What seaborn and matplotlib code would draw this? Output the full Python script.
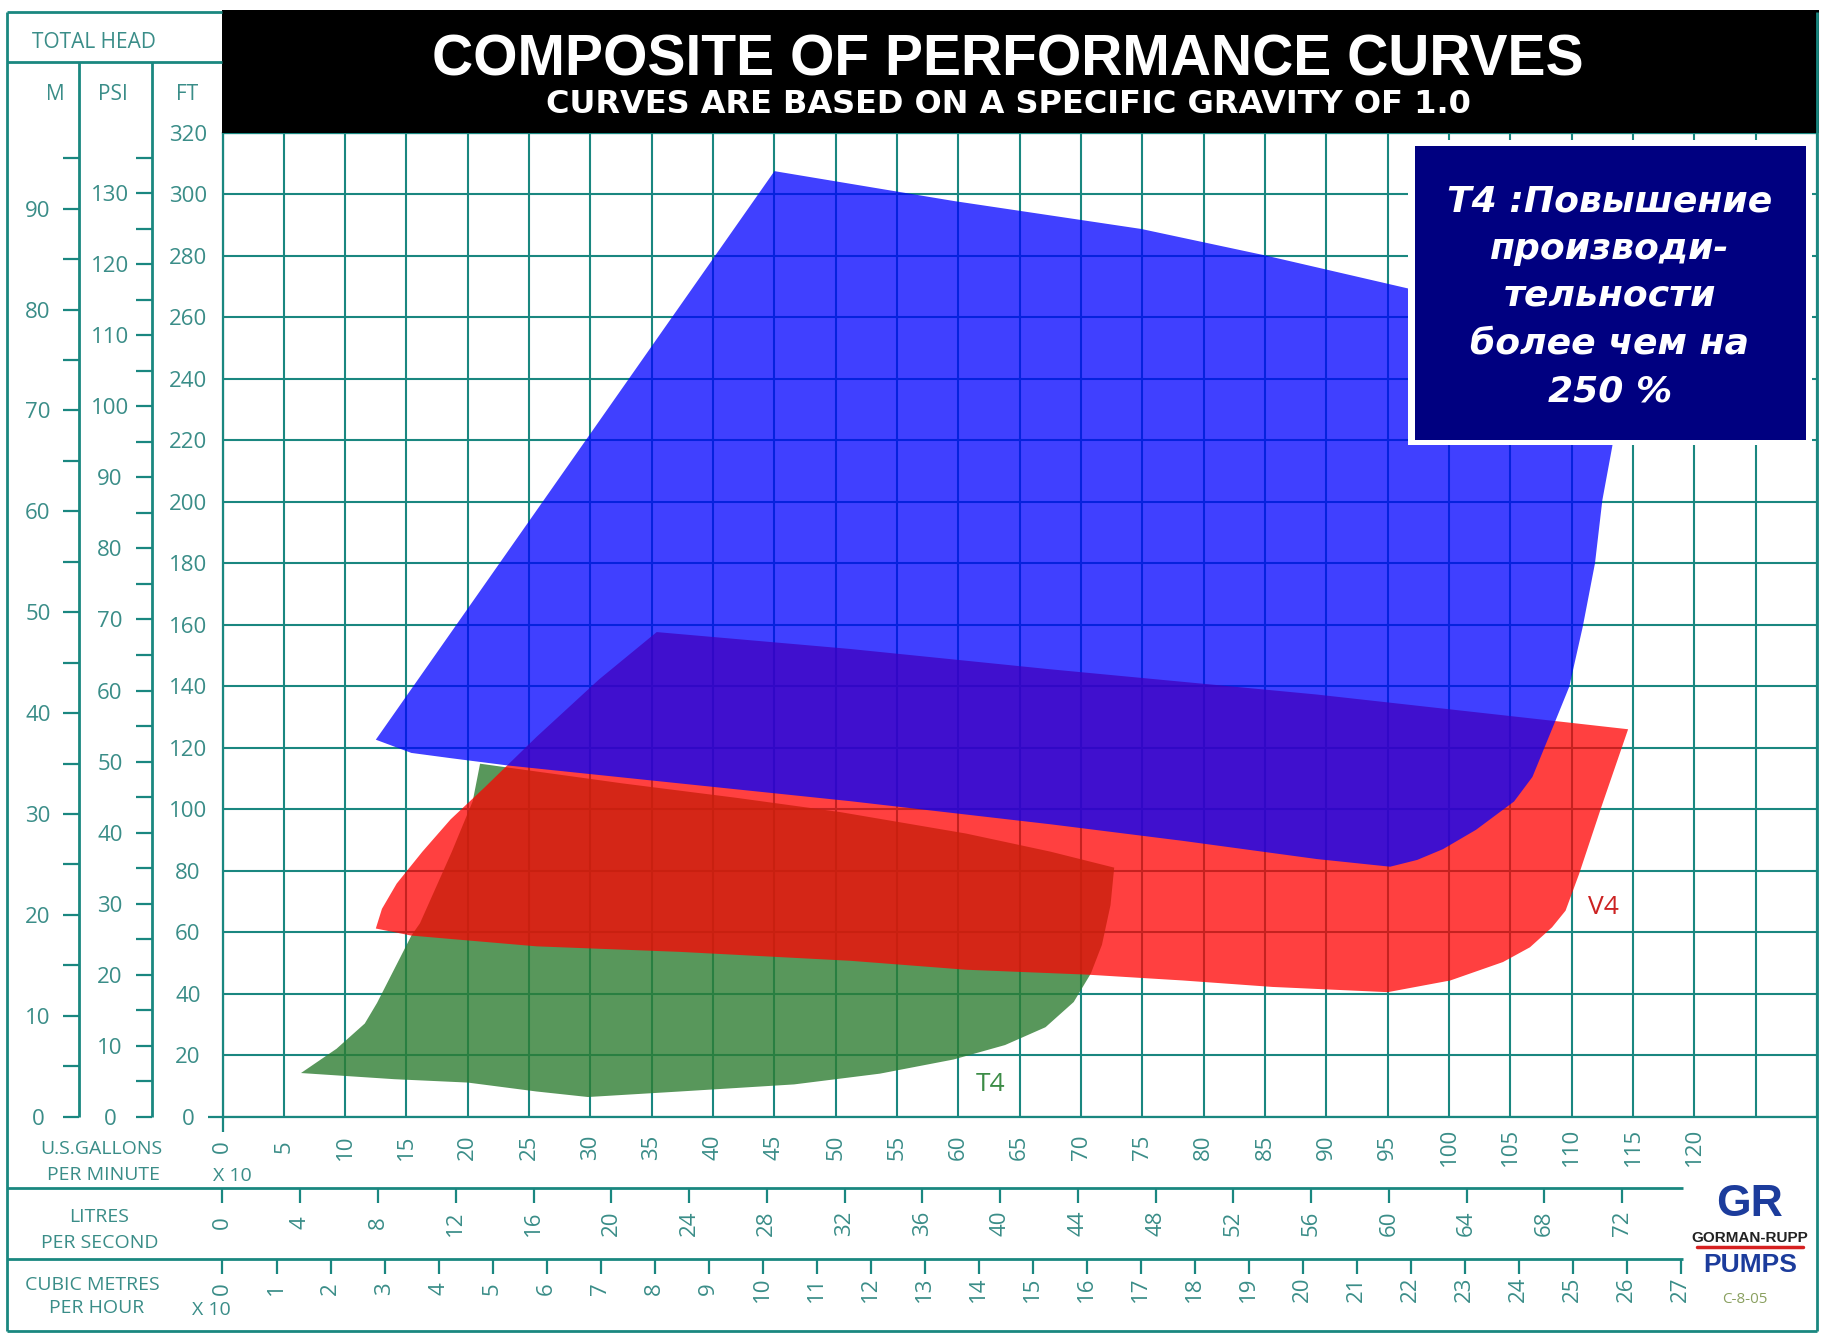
import matplotlib
matplotlib.use("Agg")
import matplotlib.pyplot as plt
from matplotlib.patches import Rectangle
import seaborn as sns

# flow in US gallons per minute (x 10), head in feet
blue_gpm = [12.5, 45.0, 59.6, 74.9, 85.0, 96.6, 115.0, 113.6, 113.3, 112.5, 111.9, 110.9,
            109.8, 108.7, 106.8, 105.3, 102.2, 99.5, 97.4, 95.2, 89.2, 78.3, 67.5, 51.2,
            23.3, 18.6, 15.4]
blue_ft = [122.6, 307.5, 297.8, 288.7, 280.1, 269.4, 255.0, 225.0, 217.8, 200.5, 180.0, 159.3,
           139.8, 129.0, 110.5, 102.5, 93.3, 87.0, 83.5, 81.3, 83.8, 89.7, 95.1, 102.6,
           114.2, 116.6, 118.3]

v4_gpm = [12.5, 13.0, 14.2, 16.3, 18.6, 21.4, 25.6, 30.7, 35.4, 51.2, 67.5, 89.2, 108.8, 114.6,
          112.4, 110.6, 109.5, 108.4, 106.6, 104.4, 100.1, 95.0, 85.6, 78.3, 70.5, 60.6, 51.2,
          37.3, 25.6, 15.4]
v4_ft = [61.2, 67.6, 75.8, 86.2, 96.7, 107.2, 123.5, 142.2, 157.6, 152.1, 145.5, 137.3, 128.6, 126.0,
         100.5, 78.9, 67.0, 61.6, 55.1, 50.3, 44.3, 40.5, 42.2, 44.3, 46.2, 47.8, 50.7,
         53.6, 55.4, 58.9]

t4_gpm = [6.4, 9.3, 11.6, 12.6, 15.4, 16.1, 18.7, 20.4, 21.0, 32.6, 41.9, 50.3, 60.6, 67.5, 72.7,
          72.4, 71.7, 70.8, 69.4, 67.1, 63.8, 59.6, 53.6, 46.6, 37.3, 29.8, 25.6, 20.0, 14.0]
t4_ft = [14.2, 22.1, 30.3, 37.0, 58.9, 62.9, 86.2, 102.6, 114.8, 108.4, 103.7, 99.1, 92.1, 86.2, 81.0,
         68.8, 55.9, 46.6, 37.3, 29.1, 23.3, 18.6, 14.0, 10.5, 8.2, 6.4, 8.2, 11.1, 12.2]

gpm_ticks = list(range(0, 126, 5))
gpm_labels = [str(v) if v <= 120 else "" for v in gpm_ticks]
ft_ticks = list(range(0, 321, 20))
m_ticks = list(range(0, 96, 5))
psi_ticks = list(range(0, 136, 5))
lps_ticks = list(range(0, 73, 4))
cmh_ticks = list(range(0, 28))

FT_PER_M = 3.28084
FT_PER_PSI = 2.31
LPS_PER_UNIT = 0.630902     # 10 gpm -> l/s
CMH10_PER_UNIT = 0.2271247  # 10 gpm -> m3/h / 10

box_text = "T4 :Повышение\nпроизводи-\nтельности\nболее чем на\n250 %"

W, H, DPI = 1825, 1333, 100
PX = 72 / DPI
TEAL = "#1a8780"
TEAL_TXT = "#3a8d88"

sns.set_theme(style="white")
plt.rcParams["font.family"] = ["Open Sans", "DejaVu Sans"]

fig = plt.figure(figsize=(W / DPI, H / DPI), dpi=DPI)
fig.patch.set_facecolor("white")

# plot area (pixels)
PL, PR, PT, PB = 222.5, 1817.0, 132.7, 1116.7
ax = fig.add_axes([PL / W, 1 - PB / H, (PR - PL) / W, (PB - PT) / H], zorder=2)

# extra scales: metres / psi on the left, l/s and m3/h below
ax_m = ax.twinx()
ax_psi = ax.twinx()
ax_lps = ax.twiny()
ax_cmh = ax.twiny()

ax.set_xlim(0, 130)
ax.set_ylim(0, 320)
ax.set_facecolor("white")
ax.set_axisbelow(True)
ax.grid(True, color=TEAL, lw=1.5)
for s in ax.spines.values():
    s.set_color(TEAL)
    s.set_linewidth(1.6)

ax.fill(t4_gpm, t4_ft, color="#2e7d32", alpha=0.8, lw=0, zorder=1)
ax.fill(v4_gpm, v4_ft, color="#ff0000", alpha=0.75, lw=0, zorder=2)
ax.fill(blue_gpm, blue_ft, color="#0000ff", alpha=0.75, lw=0, zorder=3)
ax.text(62.6, 10.5, "T4", color="#3c8c46", fontsize=19, ha="center", va="center", zorder=4)
ax.text(112.6, 68.1, "V4", color="#cc2222", fontsize=19, ha="center", va="center", zorder=4)

ax.set_xticks(gpm_ticks)
ax.set_xticklabels(gpm_labels)
ax.set_yticks(ft_ticks)
ax.xaxis.tick_bottom()
ax.yaxis.tick_left()
ax.tick_params(axis="both", which="major", length=0, labelcolor=TEAL_TXT, labelsize=16)
ax.tick_params(axis="x", which="major", labelrotation=90, pad=30.3 * PX)
ax.tick_params(axis="y", which="major", pad=34.5 * PX)
for lab in ax.get_xticklabels():
    lab.set_va("center")
for lab in ax.get_yticklabels():
    lab.set_ha("center")
ax.xaxis.remove_overlapping_locs = False
ax.yaxis.remove_overlapping_locs = False
ax.set_xticks([0], minor=True)
ax.set_yticks([0], minor=True)
ax.tick_params(which="minor", length=15 * PX, width=1.6, color=TEAL)


def left_scale(tax, x_px, top, ticks, pad_px):
    tax.set_ylim(0, top)
    for s in tax.spines.values():
        s.set_visible(False)
    tax.spines["left"].set_position(("axes", (x_px - PL) / (PR - PL)))
    tax.yaxis.set_ticks_position("left")
    tax.yaxis.set_label_position("left")
    tax.set_yticks(ticks)
    tax.set_yticklabels([str(t) if t % 10 == 0 else "" for t in ticks])
    tax.tick_params(axis="y", length=16 * PX, width=1.6, color=TEAL, labelcolor=TEAL_TXT,
                    labelsize=16, pad=pad_px * PX, direction="out")
    for lab in tax.get_yticklabels():
        lab.set_ha("center")


def bottom_scale(tax, y_px, right, ticks, pad_px):
    tax.set_xlim(0, right)
    for s in tax.spines.values():
        s.set_visible(False)
    tax.spines["bottom"].set_position(("axes", (PB - y_px) / (PB - PT)))
    tax.xaxis.set_ticks_position("bottom")
    tax.xaxis.set_label_position("bottom")
    tax.set_xticks(ticks)
    tax.tick_params(axis="x", length=15 * PX, width=1.6, color=TEAL, labelcolor=TEAL_TXT,
                    labelsize=16, pad=pad_px * PX, direction="out", labelrotation=90)
    for lab in tax.get_xticklabels():
        lab.set_va("center")


left_scale(ax_m, 79, 320 / FT_PER_M, m_ticks, 25)
left_scale(ax_psi, 152, 320 / FT_PER_PSI, psi_ticks, 26)
bottom_scale(ax_lps, 1188, 130 * LPS_PER_UNIT, lps_ticks, 20)
bottom_scale(ax_cmh, 1259, 130 * CMH10_PER_UNIT, cmh_ticks, 15)

# decoration layer in pixel coordinates
deco = fig.add_axes([0, 0, 1, 1], zorder=5)
deco.set_xlim(0, W)
deco.set_ylim(H, 0)
deco.axis("off")
deco.patch.set_alpha(0)

lw = 2.0
for xs, ys in [
    ([7, 222.5], [12, 12]), ([7, 7], [12, 1331]), ([7, 1817], [1331, 1331]),
    ([1817, 1817], [12, 1331]), ([7, 222.5], [62, 62]), ([79, 79], [62, PB]),
    ([152, 152], [62, PB]), ([7, 1683], [1188, 1188]), ([7, 1683], [1259, 1259]),
]:
    deco.plot(xs, ys, color=TEAL, lw=lw, solid_capstyle="butt")

deco.add_patch(Rectangle((222.5, 10), PR - 222.5 + 2, 122.7, facecolor="black", edgecolor="none"))
deco.text(1008, 75, "COMPOSITE OF PERFORMANCE CURVES", color="white", fontsize=41,
          fontweight="bold", family=["Liberation Sans", "DejaVu Sans"], ha="center", va="baseline")
deco.text(1008, 113, "CURVES ARE BASED ON A SPECIFIC GRAVITY OF 1.0", color="white", fontsize=23,
          fontweight="bold", family=["DejaVu Sans"], ha="center", va="baseline")

hdr = dict(color=TEAL_TXT, fontsize=15, ha="center", va="baseline")
deco.text(94, 48, "TOTAL HEAD", **hdr)
deco.text(55, 100, "M", **hdr)
deco.text(113, 100, "PSI", **hdr)
deco.text(187, 100, "FT", **hdr)

row = dict(color=TEAL_TXT, fontsize=14, ha="center", va="baseline")
deco.text(101, 1154, "U.S.GALLONS", **row)
deco.text(104, 1180, "PER MINUTE", **row)
deco.text(232, 1181, "X 10", **row)
deco.text(99, 1222, "LITRES", **row)
deco.text(100, 1248, "PER SECOND", **row)
deco.text(92, 1290, "CUBIC METRES", **row)
deco.text(97, 1313, "PER HOUR", **row)
deco.text(211, 1315, "X 10", **row)

# callout box
deco.add_patch(Rectangle((1408, 140), 404, 305, facecolor="white", edgecolor="none"))
deco.add_patch(Rectangle((1415, 146), 391, 294, facecolor="#000080", edgecolor="none"))
deco.text(1610, 296, box_text, color="white", fontsize=26, fontweight="bold", fontstyle="italic",
          family=["DejaVu Sans"], ha="center", va="center", multialignment="center",
          linespacing=1.5)

# logo
deco.text(1750, 1216, "GR", color="#1c3c9c", fontsize=32, fontweight="bold",
          family=["Liberation Sans", "DejaVu Sans"], ha="center", va="baseline")
deco.text(1750, 1242, "GORMAN-RUPP", color="#222222", fontsize=11, fontweight="bold",
          family=["Liberation Sans Narrow", "Liberation Sans"], ha="center", va="baseline")
deco.plot([1697, 1803], [1247, 1247], color="#d62020", lw=2.5)
deco.text(1750, 1272, "PUMPS", color="#1c3c9c", fontsize=19, fontweight="bold",
          family=["Liberation Sans", "DejaVu Sans"], ha="center", va="baseline")
deco.text(1745, 1303, "C-8-05", color="#8aa060", fontsize=11, ha="center", va="baseline")

fig.savefig("out.png", dpi=DPI)
